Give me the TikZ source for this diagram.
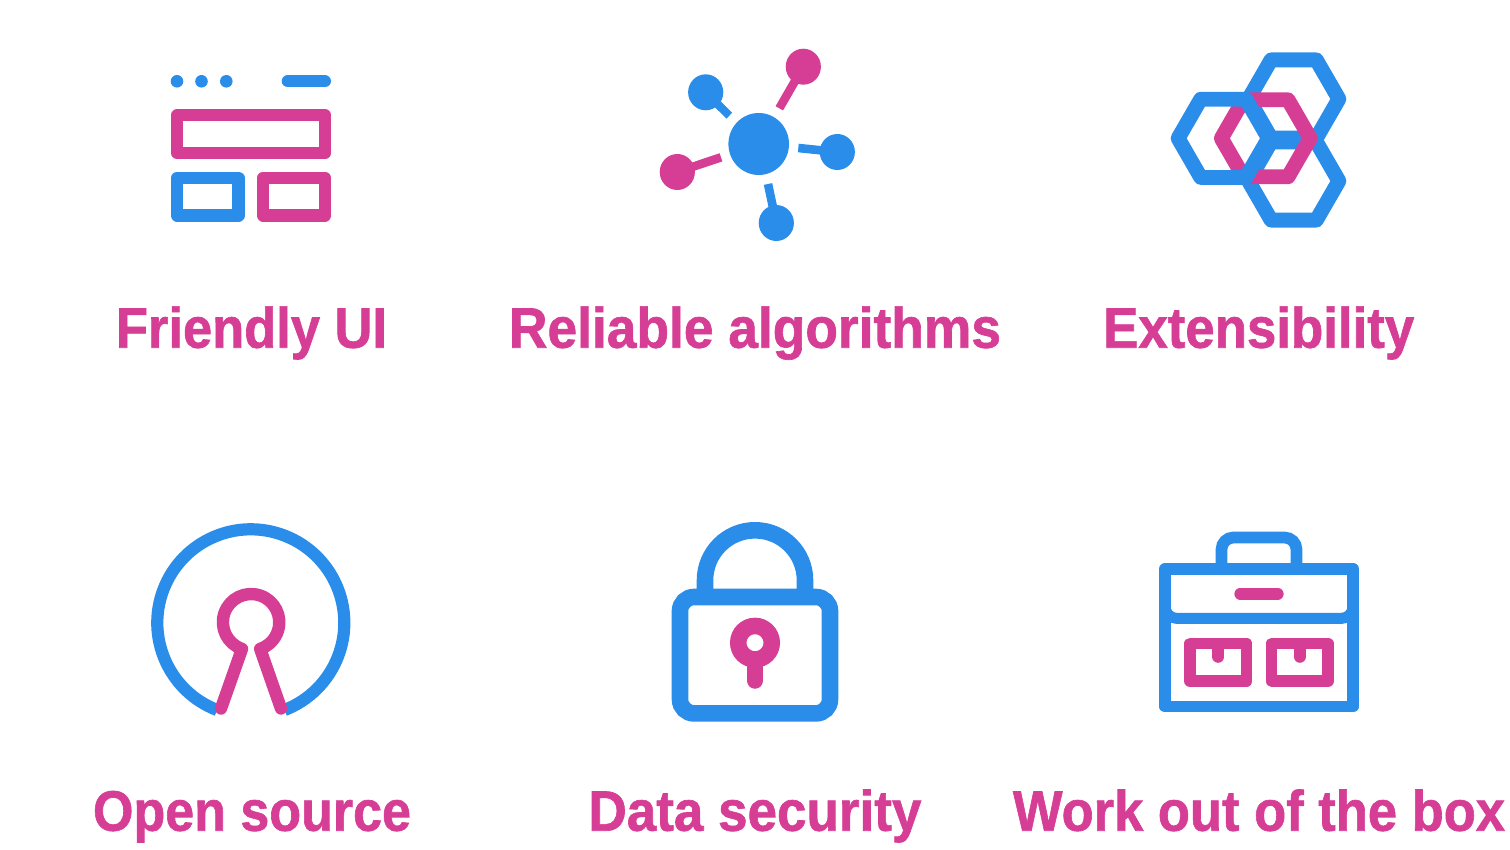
\documentclass[tikz,border=0pt]{standalone}
\usepackage{graphicx}
\usepackage{fontspec}
\setmainfont{Liberation Sans}
\newfontfamily\lblfont[FakeBold=1.2]{Liberation Sans Bold}
\definecolor{iconblue}{HTML}{2B8DEA}
\definecolor{iconpink}{HTML}{D63E96}
\tikzset{
  lbl/.style={text=iconpink,font=\fontsize{57}{60}\selectfont\lblfont,anchor=base,inner sep=0pt,outer sep=0pt},
  bl/.style={draw=iconblue,line join=round},
  pk/.style={draw=iconpink,line join=round},
}
\newcommand{\lbltext}[2]{\resizebox{#1pt}{\height}{#2}}
\begin{document}
\begin{tikzpicture}[x=1pt,y=1pt,yscale=-1]
\useasboundingbox (0,0) rectangle (1510,850);
% --- Friendly UI icon
\foreach \x in {177,201.5,226.3}{\fill[iconblue] (\x,81.3) circle[radius=6.3pt];}
\draw[iconblue,line width=12.4pt,line cap=round] (287.9,81.3) -- (324.8,81.3);
\draw[pk,line width=12.4pt] (177.2,115.3) rectangle (325,153);
\draw[bl,line width=12.4pt] (177.2,177.9) rectangle (238.5,215.5);
\draw[pk,line width=12.4pt] (263.2,177.9) rectangle (325,215.5);
% --- Reliable algorithms icon
\coordinate (hub) at (758.7,144);
\coordinate (n1) at (803.3,66.7);
\coordinate (n2) at (705.7,92.3);
\coordinate (n3) at (837.3,152);
\coordinate (n4) at (776.3,223);
\coordinate (n5) at (677.3,172);
\draw[iconpink,line width=8.6pt] (779.3,108.3) -- (n1);
\draw[iconblue,line width=8.2pt] (729.3,115.7) -- (n2);
\draw[iconblue,line width=8.6pt] (798.3,148) -- (n3);
\draw[iconblue,line width=8.6pt] (768,184) -- (n4);
\draw[iconpink,line width=8.6pt] (721,157.3) -- (n5);
\fill[iconblue] (hub) ellipse[x radius=30.3pt,y radius=31pt];
\fill[iconpink] (n1) ellipse[x radius=17.6pt,y radius=18pt];
\fill[iconblue] (n2) ellipse[x radius=17.6pt,y radius=18pt];
\fill[iconblue] (n3) ellipse[x radius=17.6pt,y radius=18pt];
\fill[iconblue] (n4) ellipse[x radius=17.6pt,y radius=18pt];
\fill[iconpink] (n5) ellipse[x radius=17.6pt,y radius=18pt];
% --- Extensibility icon
\newcommand{\hexpath}[3]{(#1+#3,#2) -- ++(-#3/2,{0.866*#3}) -- ++(-#3,0) -- ++(-#3/2,{-0.866*#3}) -- ++(#3/2,{-0.866*#3}) -- ++(#3,0) -- cycle}
\draw[bl,line width=14.8pt] \hexpath{1293.7}{99}{45.2};
\draw[bl,line width=14.8pt] \hexpath{1293.7}{181}{45.2};
\draw[pk,line width=14.8pt] \hexpath{1265.8}{138.3}{44.5};
\draw[bl,line width=14.8pt] \hexpath{1223.3}{138.3}{45.2};
% --- Open source icon
\coordinate (ringc) at (250.8,622.8);
\draw[iconblue,line width=12.2pt] (ringc) ++(111.1:93.5) arc[start angle=111.1,end angle=428.9,radius=93.5pt];
\draw[pk,line width=12.4pt,line cap=round] (221,708.5) -- (242,648.9) arc[start angle=108.8,end angle=431.2,radius=28.2pt] -- (281,708.5);
% --- Data security icon
\draw[iconblue,line width=16.6pt] (705,597) -- (705,580.3) arc[start angle=180,end angle=360,radius=50pt] -- (805,597);
\draw[iconblue,line width=16.6pt] (680,611) arc[start angle=180,end angle=270,radius=14pt] -- (816,597) arc[start angle=270,end angle=360,radius=14pt] -- (830,699.4) arc[start angle=0,end angle=90,radius=14pt] -- (694,713.4) arc[start angle=90,end angle=180,radius=14pt] -- cycle;
\draw[iconpink,line width=16.5pt] (755,642.7) circle[radius=16.75pt];
\draw[iconpink,line width=16.5pt,line cap=round] (755,660) -- (755,680.5);
% --- Work out of the box icon
\draw[iconblue,line width=11.7pt,rounded corners=12pt] (1221.5,569) -- (1221.5,537.5) -- (1296.5,537.5) -- (1296.5,569);
\draw[bl,line width=11.7pt] (1164.9,568.9) rectangle (1353.2,706.5);
\draw[iconblue,line width=11pt,rounded corners=12pt] (1164.9,590) -- (1164.9,618.4) -- (1353.2,618.4) -- (1353.2,590);
\draw[iconpink,line width=11.7pt,line cap=round] (1240.2,593.8) -- (1277.8,593.8);
\draw[pk,line width=11.7pt] (1190.2,643.5) rectangle (1246.5,681.2);
\draw[pk,line width=11.7pt] (1271.6,643.5) rectangle (1327.9,681.2);
\draw[iconpink,line width=12pt,line cap=round] (1218.3,646) -- (1218.3,656.8);
\draw[iconpink,line width=12pt,line cap=round] (1299.7,646) -- (1299.7,656.8);
% --- Labels
\node[lbl] (friendly) at (251.5,347.7) {\lbltext{271}{Friendly UI}};
\node[lbl] (reliable) at (755,347.7) {\lbltext{492}{Reliable algorithms}};
\node[lbl] (extens) at (1258.7,347.7) {\lbltext{311}{Extensibility}};
\node[lbl] (opensrc) at (252,830.7) {\lbltext{318}{Open source}};
\node[lbl] (datasec) at (755,830.7) {\lbltext{333}{Data security}};
\node[lbl] (workbox) at (1259,830.7) {\lbltext{492}{Work out of the box}};
\end{tikzpicture}
\end{document}
